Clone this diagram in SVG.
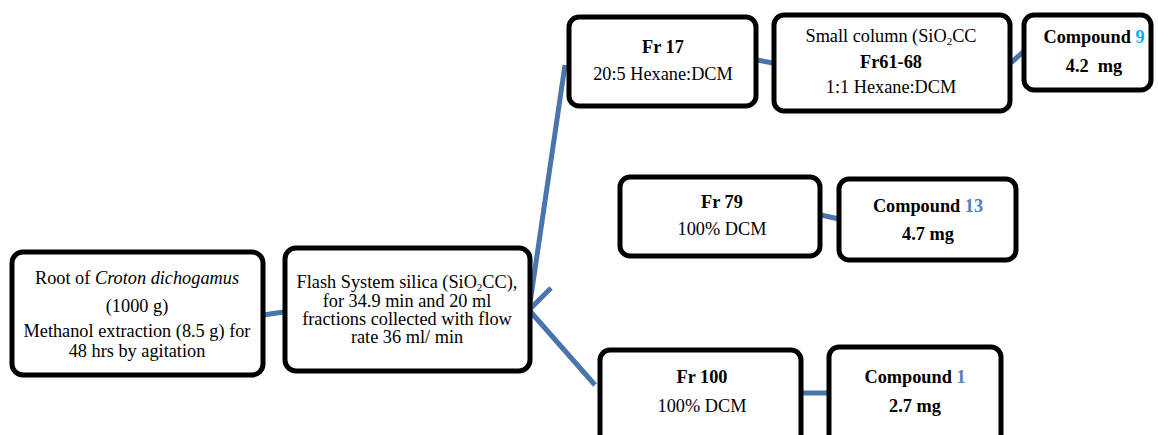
<svg xmlns="http://www.w3.org/2000/svg" width="1158" height="435" viewBox="0 0 1158 435">
<style>
.box{fill:#fff;stroke:#000;stroke-width:5}
.t{font-family:"Liberation Serif","Times New Roman",serif;font-size:18.3px;fill:#000;text-anchor:middle}
.b{font-weight:bold}
.c{stroke:#4A74AC;stroke-width:5;fill:none;stroke-linecap:butt}
.n1{fill:#00B0F0}
.n2{fill:#4F81BD}
</style>
<rect width="1158" height="435" fill="#fff"/>
<g id="connectors">
<line class="c" x1="263" y1="315" x2="284" y2="312"/>
<line class="c" x1="529" y1="310" x2="565" y2="65"/>
<line class="c" x1="529" y1="310" x2="595" y2="385"/>
<line class="c" x1="529" y1="310" x2="551" y2="288"/>
<line class="c" x1="757" y1="60" x2="773" y2="63"/>
<line class="c" x1="1011" y1="63" x2="1025" y2="50"/>
<line class="c" x1="821" y1="215" x2="839" y2="219"/>
<line class="c" x1="802" y1="393" x2="828" y2="393"/>
</g>
<g id="root">
<rect class="box" x="12" y="252" width="251" height="123" rx="11"/>
<text class="t" x="137" y="284">Root of <tspan font-style="italic">Croton dichogamus</tspan></text>
<text class="t" x="137" y="312">(1000 g)</text>
<text class="t" x="137" y="337">Methanol extraction (8.5 g) for</text>
<text class="t" x="137" y="357">48 hrs by agitation</text>
</g>
<g id="flash">
<rect class="box" x="285" y="248" width="245" height="123" rx="11"/>
<text class="t" x="407" y="288">Flash System silica (SiO<tspan font-size="11" dy="3">2</tspan><tspan dy="-3">CC),</tspan></text>
<text class="t" x="407" y="307">for 34.9 min and 20 ml</text>
<text class="t" x="407" y="325">fractions collected with flow</text>
<text class="t" x="407" y="343">rate 36 ml/ min</text>
</g>
<g id="fr17">
<rect class="box" x="569" y="17" width="187" height="89" rx="10"/>
<text class="t b" x="663" y="53">Fr 17</text>
<text class="t" x="663" y="80">20:5 Hexane:DCM</text>
</g>
<g id="smallcolumn">
<rect class="box" x="774" y="15" width="236" height="96" rx="10"/>
<text class="t" x="891" y="42">Small column (SiO<tspan font-size="11" dy="3">2</tspan><tspan dy="-3">CC</tspan></text>
<text class="t b" x="891" y="68">Fr61-68</text>
<text class="t" x="891" y="93">1:1 Hexane:DCM</text>
</g>
<g id="compound9">
<rect class="box" x="1024" y="15" width="127" height="75" rx="10"/>
<text class="t b" x="1094" y="43">Compound <tspan class="n1">9</tspan></text>
<text class="t b" x="1094" y="72" xml:space="preserve">4.2  mg</text>
</g>
<g id="fr79">
<rect class="box" x="620" y="177" width="200" height="79" rx="10"/>
<text class="t b" x="722" y="208">Fr 79</text>
<text class="t" x="722" y="235">100% DCM</text>
</g>
<g id="compound13">
<rect class="box" x="839" y="179" width="177" height="81" rx="10"/>
<text class="t b" x="928" y="212">Compound <tspan class="n2">13</tspan></text>
<text class="t b" x="928" y="240">4.7 mg</text>
</g>
<g id="fr100">
<rect class="box" x="600" y="350" width="201" height="100" rx="10"/>
<text class="t b" x="702" y="383">Fr 100</text>
<text class="t" x="702" y="412">100% DCM</text>
</g>
<g id="compound1">
<rect class="box" x="829" y="347" width="172" height="100" rx="10"/>
<text class="t b" x="915" y="383">Compound <tspan class="n2">1</tspan></text>
<text class="t b" x="915" y="412">2.7 mg</text>
</g>
</svg>
